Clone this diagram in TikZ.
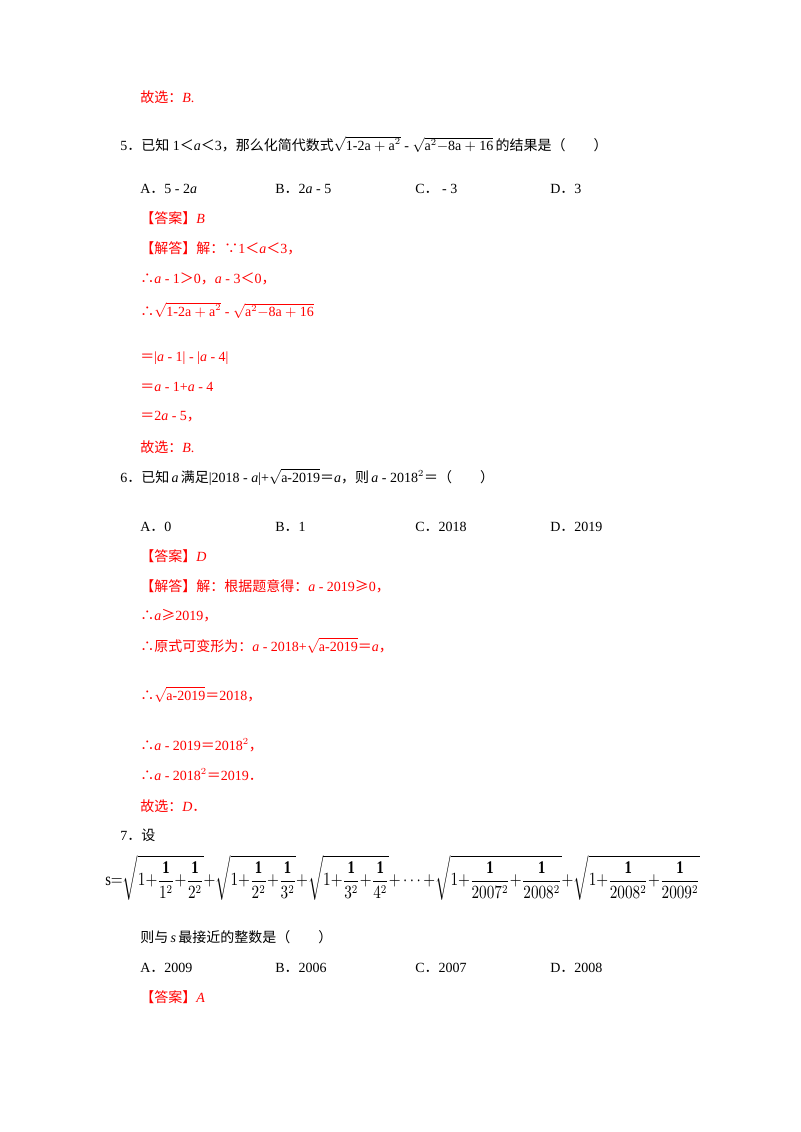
\documentclass[tikz,border=0pt]{standalone}
\usepackage{amsmath}
\usepackage{fontspec}
\setmainfont{Liberation Serif}
\newfontfamily\cjk{Noto Sans CJK SC}
\newcommand{\zh}[1]{{\cjk #1}}
\newcommand{\thf}{\zh{∴}}
\tikzset{
  txt/.style={anchor=base west,inner sep=0pt,font=\fontsize{10.5}{12}\selectfont},
  ans/.style={txt,text=red},
}
\begin{document}
\begin{tikzpicture}[x=0.75pt,y=-0.75pt]
  \useasboundingbox[fill=white] (0,0) rectangle (800,1132);

  % Question 5
  \node[ans] (q4end) at (140,102) {\zh{故选：}\textit{B}.};
  \node[txt] (q5) at (120,150) {5\zh{．已知} 1\zh{＜}\textit{a}\zh{＜}3\zh{，那么化简代数式}$\sqrt{\mathrm{1\text{-}2a+a}^2}$ - $\sqrt{\mathrm{a}^2\mathrm{-8a+16}}$\,\zh{的结果是（　　）}};
  \node[txt] (q5a) at (140,193) {A\zh{．}5 - 2\textit{a}};
  \node[txt] (q5b) at (275,193) {B\zh{．}2\textit{a} - 5};
  \node[txt] (q5c) at (415,193) {C\zh{．} - 3};
  \node[txt] (q5d) at (550,193) {D\zh{．}3};
  \node[ans] (a5) at (140,223) {\zh{【答案】}\textit{B}};
  \node[ans] (s5a) at (140,253) {\zh{【解答】解：∵}1\zh{＜}\textit{a}\zh{＜}3\zh{，}};
  \node[ans] (s5b) at (140,283) {\thf\textit{a} - 1\zh{＞}0\zh{，}\textit{a} - 3\zh{＜}0\zh{，}};
  \node[ans] (s5c) at (140,316) {\thf$\sqrt{\mathrm{1\text{-}2a+a}^2}$ - $\sqrt{\mathrm{a}^2\mathrm{-8a+16}}$};
  \node[ans] (s5d) at (140,361) {\zh{＝}|\textit{a} - 1| - |\textit{a} - 4|};
  \node[ans] (s5e) at (140,391) {\zh{＝}\textit{a} - 1+\textit{a} - 4};
  \node[ans] (s5f) at (140,420) {\zh{＝}2\textit{a} - 5\zh{，}};
  \node[ans] (s5g) at (140,452) {\zh{故选：}\textit{B}.};

  % Question 6
  \node[txt] (q6) at (120,482) {6\zh{．已知}\,\textit{a}\,\zh{满足}|2018 - \textit{a}|+$\sqrt{\mathrm{a\text{-}2019}}$\zh{＝}\textit{a}\zh{，则}\,\textit{a} - 2018$^2$\zh{＝（　　）}};
  \node[txt] (q6a) at (140,531) {A\zh{．}0};
  \node[txt] (q6b) at (275,531) {B\zh{．}1};
  \node[txt] (q6c) at (415,531) {C\zh{．}2018};
  \node[txt] (q6d) at (550,531) {D\zh{．}2019};
  \node[ans] (a6) at (140,561) {\zh{【答案】}\textit{D}};
  \node[ans] (s6a) at (140,591) {\zh{【解答】解：根据题意得：}\textit{a} - 2019\zh{≥}0\zh{，}};
  \node[ans] (s6b) at (140,620) {\thf\textit{a}\zh{≥}2019\zh{，}};
  \node[ans] (s6c) at (140,651) {\thf\zh{原式可变形为：}\textit{a} - 2018+$\sqrt{\mathrm{a\text{-}2019}}$\zh{＝}\textit{a}\zh{，}};
  \node[ans] (s6d) at (140,700) {\thf$\sqrt{\mathrm{a\text{-}2019}}$\zh{＝}2018\zh{，}};
  \node[ans] (s6e) at (140,750) {\thf\textit{a} - 2019\zh{＝}2018$^2$\zh{，}};
  \node[ans] (s6f) at (140,780) {\thf\textit{a} - 2018$^2$\zh{＝}2019\zh{．}};
  \node[ans] (s6g) at (140,811) {\zh{故选：}\textit{D}\zh{．}};

  % Question 7
  \node[txt] (q7) at (120,840) {7\zh{．设}};
  \node[txt,anchor=west] (q7s) at (105,878) {\resizebox*{446pt}{34pt}{$\displaystyle \mathrm{s}{=}\sqrt{1{+}\frac{\mathbf 1}{1^2}{+}\frac{\mathbf 1}{2^2}}{+}\sqrt{1{+}\frac{\mathbf 1}{2^2}{+}\frac{\mathbf 1}{3^2}}{+}\sqrt{1{+}\frac{\mathbf 1}{3^2}{+}\frac{\mathbf 1}{4^2}}{+}\cdots{+}\sqrt{1{+}\frac{\mathbf 1}{2007^2}{+}\frac{\mathbf 1}{2008^2}}{+}\sqrt{1{+}\frac{\mathbf 1}{2008^2}{+}\frac{\mathbf 1}{2009^2}}$}};
  \node[txt] (q7t) at (140,942) {\zh{则与}\,\textit{s}\,\zh{最接近的整数是（　　）}};
  \node[txt] (q7a) at (140,972) {A\zh{．}2009};
  \node[txt] (q7b) at (275,972) {B\zh{．}2006};
  \node[txt] (q7c) at (415,972) {C\zh{．}2007};
  \node[txt] (q7d) at (550,972) {D\zh{．}2008};
  \node[ans] (a7) at (140,1002) {\zh{【答案】}\textit{A}};
\end{tikzpicture}
\end{document}
